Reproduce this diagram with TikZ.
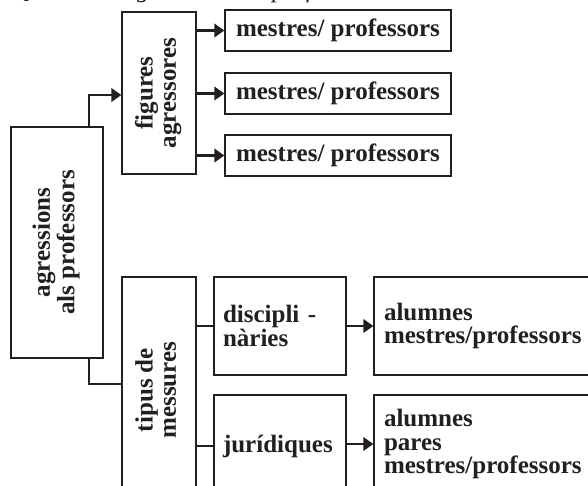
\documentclass[tikz,border=0pt]{standalone}
\usepackage{fontspec}
\setmainfont{Liberation Serif}
\usepackage{tikz}
\usetikzlibrary{positioning}
\usetikzlibrary{arrows.meta}
\usetikzlibrary{calc}
\usepackage{xcolor}

\definecolor{ink}{HTML}{231F20}

\tikzset{
  box/.style={draw=ink, line width=0.6pt, text=ink, font=\bfseries, inner sep=0pt},
  sidebox/.style={box, align=left, inner xsep=4.32pt},
  conn/.style={ink, line width=1.3pt},
  tip/.style={conn, -{Triangle[length=4.8pt,width=6.4pt]}}
}

\newcommand{\upright}[2]{\rotatebox{90}{\begin{tabular}{@{}c@{}}#1\\#2\end{tabular}}}

\begin{document}
\fontsize{12}{11.2}\selectfont
\begin{tikzpicture}[x=0.48pt, y=-0.48pt]

\useasboundingbox (0,0) rectangle (588,485);

\node[anchor=base west, text=ink, font=\itshape] (cap) at (5,-3) {Quadre 4: agressions als professors};


\begin{scope}

\node[box, minimum width=44.16pt, minimum height=110.88pt] (agr) at (57,242.5)
{\upright{agressions}{als professors}};

\node[box, minimum width=35.52pt, minimum height=77.76pt] (fig) at (159,93)
{\upright{figures}{agressores}};

\node[box, minimum width=35.52pt, minimum height=108.48pt] (tip) at (159,390)
{\upright{tipus de}{messures}};

\end{scope}


{
\node[box, minimum width=108.48pt, minimum height=19.68pt] (mes1) at (338,30.5) {mestres/ professors};
\node[box, minimum width=108.48pt, minimum height=19.68pt] (mes2) at (338,93.5) {mestres/ professors};
\node[box, minimum width=108.48pt, minimum height=19.68pt] (mes3) at (338,155.5) {mestres/ professors};
}

{
\node[sidebox, text width=54.72pt, minimum height=47.04pt] (disc) at (280,326)
{discipli -\\nàries};
\node[sidebox, text width=54.72pt, minimum height=48.96pt] (jur) at (280,446)
{jurídiques};

\node[sidebox, text width=98.88pt, inner xsep=4.8pt, minimum height=47.04pt] (alu1) at (487,326)
{alumnes\\mestres/professors};
\node[sidebox, text width=98.88pt, inner xsep=4.8pt, minimum height=47.04pt] (alu2) at (487,444)
{alumnes\\pares\\mestres/professors};
}


\coordinate (agrup) at (89,127);
\coordinate (agrdn) at (89,358);

\draw[tip] (agrup) |- ($(fig.west)+(0,2)$);
\draw[conn] (agrdn) |- ($(tip.west)+(0,-6)$);

\foreach \m in {mes1,mes2,mes3}
  \draw[tip] (fig.east |- \m.west) -- (\m.west);

\draw[conn] (tip.east |- disc.west) -- (disc.west);
\draw[conn] (tip.east |- jur.west) -- (jur.west);

\draw[tip] (disc.east) -- (disc.east -| alu1.west);
\draw[tip] (jur.east |- alu2.west) -- (alu2.west);

\end{tikzpicture}
\end{document}
